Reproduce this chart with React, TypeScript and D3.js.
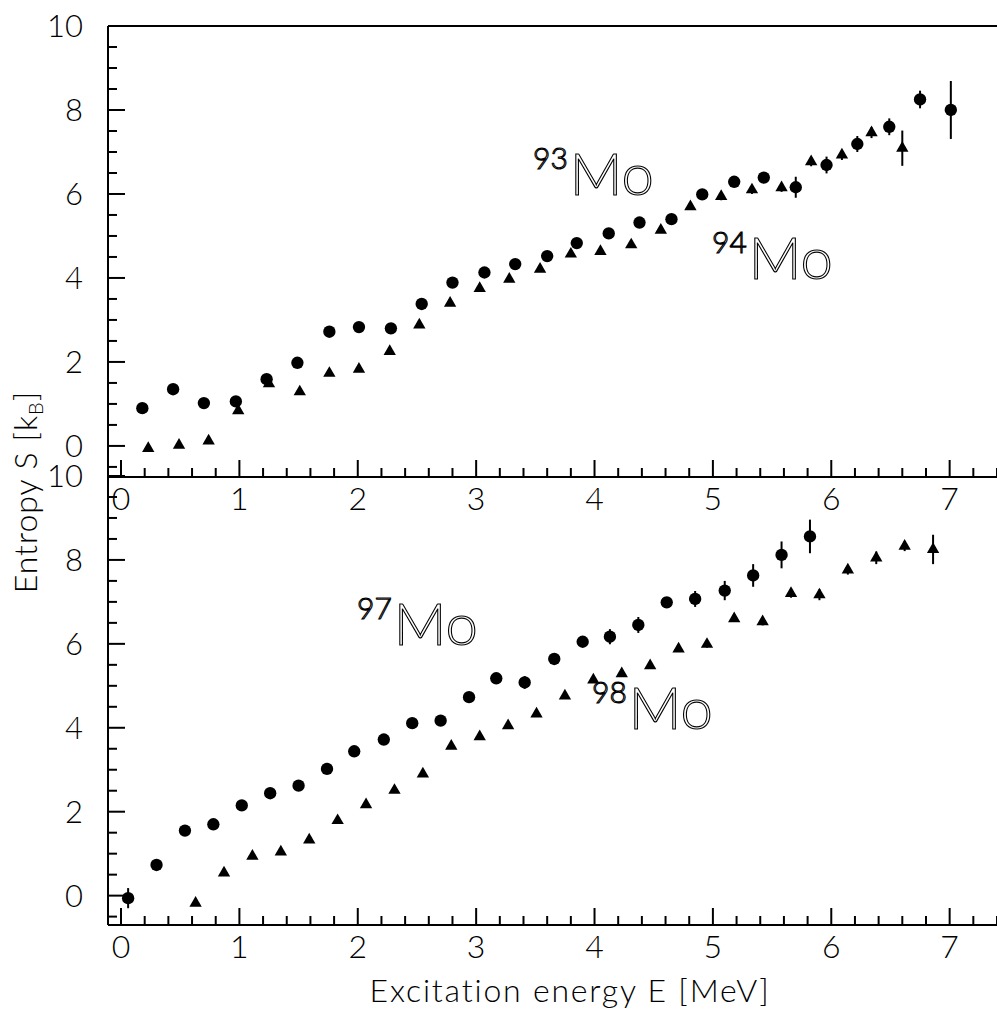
import React from "react";
import * as d3 from "d3";

// ---- data: top panel ----
const mo93E = [0.18, 0.44, 0.70, 0.97, 1.23, 1.49, 1.76, 2.01, 2.28, 2.54, 2.80, 3.07, 3.33, 3.60, 3.85, 4.12, 4.38, 4.65, 4.91, 5.18, 5.43, 5.70, 5.96, 6.22, 6.49, 6.75, 7.01];
const mo93S = [0.90, 1.35, 1.02, 1.06, 1.59, 1.98, 2.72, 2.83, 2.80, 3.38, 3.89, 4.13, 4.33, 4.52, 4.83, 5.06, 5.32, 5.40, 5.99, 6.29, 6.39, 6.16, 6.69, 7.19, 7.60, 8.25, 8.00];
const mo93Err = [0.02, 0.02, 0.02, 0.02, 0.03, 0.03, 0.03, 0.03, 0.04, 0.04, 0.04, 0.05, 0.05, 0.06, 0.06, 0.07, 0.08, 0.09, 0.10, 0.11, 0.12, 0.25, 0.20, 0.19, 0.20, 0.21, 0.69];

const mo94E = [0.23, 0.49, 0.74, 0.99, 1.25, 1.51, 1.76, 2.01, 2.27, 2.52, 2.78, 3.03, 3.28, 3.54, 3.80, 4.05, 4.31, 4.56, 4.81, 5.07, 5.33, 5.58, 5.83, 6.09, 6.34, 6.60];
const mo94S = [-0.06, 0.02, 0.12, 0.84, 1.48, 1.29, 1.73, 1.83, 2.25, 2.88, 3.40, 3.75, 3.97, 4.21, 4.57, 4.63, 4.79, 5.14, 5.70, 5.94, 6.10, 6.15, 6.77, 6.93, 7.46, 7.09];
const mo94Err = [0.02, 0.02, 0.02, 0.02, 0.02, 0.03, 0.03, 0.03, 0.03, 0.04, 0.04, 0.04, 0.05, 0.05, 0.06, 0.06, 0.07, 0.07, 0.08, 0.09, 0.10, 0.10, 0.11, 0.12, 0.13, 0.42];

// ---- data: bottom panel ----
const mo97E = [0.06, 0.30, 0.54, 0.78, 1.02, 1.26, 1.50, 1.74, 1.97, 2.22, 2.46, 2.70, 2.94, 3.17, 3.41, 3.66, 3.90, 4.13, 4.37, 4.61, 4.85, 5.10, 5.34, 5.58, 5.82];
const mo97S = [-0.06, 0.73, 1.55, 1.70, 2.15, 2.44, 2.62, 3.02, 3.44, 3.72, 4.11, 4.17, 4.73, 5.18, 5.08, 5.64, 6.05, 6.17, 6.45, 6.99, 7.07, 7.27, 7.63, 8.12, 8.56];
const mo97Err = [0.24, 0.03, 0.03, 0.03, 0.03, 0.04, 0.04, 0.04, 0.05, 0.05, 0.06, 0.06, 0.07, 0.08, 0.15, 0.09, 0.10, 0.18, 0.19, 0.12, 0.19, 0.23, 0.27, 0.32, 0.40];

const mo98E = [0.63, 0.87, 1.11, 1.35, 1.59, 1.83, 2.07, 2.31, 2.55, 2.79, 3.03, 3.27, 3.51, 3.75, 3.99, 4.23, 4.47, 4.71, 4.95, 5.18, 5.42, 5.66, 5.90, 6.14, 6.38, 6.62, 6.86];
const mo98S = [-0.18, 0.54, 0.94, 1.04, 1.33, 1.79, 2.17, 2.51, 2.90, 3.56, 3.79, 4.05, 4.33, 4.76, 5.14, 5.29, 5.48, 5.88, 5.99, 6.60, 6.53, 7.20, 7.17, 7.76, 8.05, 8.33, 8.25];
const mo98Err = [0.02, 0.02, 0.02, 0.02, 0.03, 0.03, 0.03, 0.03, 0.04, 0.04, 0.04, 0.05, 0.05, 0.05, 0.06, 0.06, 0.07, 0.07, 0.08, 0.08, 0.09, 0.10, 0.13, 0.11, 0.15, 0.12, 0.35];

const xMajorTicks = [0, 1, 2, 3, 4, 5, 6, 7];
const yMajorTicks = [0, 2, 4, 6, 8, 10];

const W = 997;
const H = 1011;
const FONT = "Lato, 'Open Sans', 'DejaVu Sans', sans-serif";
const INK = "#000";

const xScale = d3.scaleLinear().domain([-0.11, 7.4]).range([108, 997]);
const yTop = d3.scaleLinear().domain([-0.74, 10]).range([477, 26]);
const yBot = d3.scaleLinear().domain([-0.7, 10]).range([925, 476]);

const xMinor = d3.range(0, 7.41, 0.2).filter((v) => Math.abs(v - Math.round(v)) > 0.01);
const yMinor = d3.range(-0.5, 10.01, 0.5).filter((v) => Math.abs(v / 2 - Math.round(v / 2)) > 0.01);

const circlePath = d3.symbol(d3.symbolCircle, 120)()!;
const triPath = d3.symbol(d3.symbolTriangle, 66)()!;

type Series = { e: number[]; s: number[]; err: number[]; kind: "circle" | "tri" };

function Panel({ y, series, showTop }: { y: d3.ScaleLinear<number, number>; series: Series[]; showTop: boolean }) {
  const [y0, y1] = y.range();
  const x0 = xScale.range()[0];
  const x1 = xScale.range()[1];
  return (
    <g>
      {series.map((ser, si) => (
        <g key={si}>
          {ser.e.map((e, i) => {
            const cx = xScale(e);
            const cy = y(ser.s[i]);
            const ey1 = y(ser.s[i] + ser.err[i]);
            const ey2 = y(ser.s[i] - ser.err[i]);
            return (
              <g key={i}>
                <line x1={cx} x2={cx} y1={ey1} y2={ey2} stroke={INK} strokeWidth={2} />
                <path d={ser.kind === "circle" ? circlePath : triPath} transform={`translate(${cx},${cy})`} fill={INK} />
              </g>
            );
          })}
        </g>
      ))}
      {showTop && <line x1={x0} x2={x1} y1={y1} y2={y1} stroke={INK} strokeWidth={2} />}
      <line x1={x0} x2={x0} y1={y1} y2={y0} stroke={INK} strokeWidth={2} />
      <line x1={x0} x2={x1} y1={y0} y2={y0} stroke={INK} strokeWidth={2} />
      {xMajorTicks.map((t) => (
        <line key={"xM" + t} x1={xScale(t)} x2={xScale(t)} y1={y0} y2={y0 - 17} stroke={INK} strokeWidth={2} />
      ))}
      {xMinor.map((t) => (
        <line key={"xm" + t} x1={xScale(t)} x2={xScale(t)} y1={y0} y2={y0 - 9} stroke={INK} strokeWidth={2} />
      ))}
      {yMajorTicks.map((t) => (
        <line key={"yM" + t} x1={x0} x2={x0 + 17} y1={y(t)} y2={y(t)} stroke={INK} strokeWidth={2} />
      ))}
      {yMinor.map((t) => (
        <line key={"ym" + t} x1={x0} x2={x0 + 9} y1={y(t)} y2={y(t)} stroke={INK} strokeWidth={2} />
      ))}
      {xMajorTicks.map((t) => (
        <text key={"xl" + t} x={xScale(t)} y={y0 + 33} textAnchor="middle" fontFamily={FONT} fontWeight={300} fontSize={32} fill={INK}>
          {t}
        </text>
      ))}
      {yMajorTicks.map((t) => (
        <text key={"yl" + t} x={83} y={y(t) + 11} textAnchor="end" fontFamily={FONT} fontWeight={300} fontSize={31} fill={INK}>
          {t}
        </text>
      ))}
    </g>
  );
}

function IsoLabel({ x, y, mass }: { x: number; y: number; mass: string }) {
  return (
    <text x={x} y={y} fontFamily={FONT} fill="#fff" stroke="#000" strokeWidth={1.1} fontWeight={300}>
      <tspan fontSize={30} dy={-26}>{mass}</tspan>
      <tspan fontSize={58} dy={26} dx={2}>Mo</tspan>
    </text>
  );
}

export default function App() {
  const topSeries: Series[] = [
    { e: mo93E, s: mo93S, err: mo93Err, kind: "circle" },
    { e: mo94E, s: mo94S, err: mo94Err, kind: "tri" },
  ];
  const botSeries: Series[] = [
    { e: mo97E, s: mo97S, err: mo97Err, kind: "circle" },
    { e: mo98E, s: mo98S, err: mo98Err, kind: "tri" },
  ];
  return (
    <svg width={W} height={H} style={{ position: "absolute", left: 0, top: 0, background: "#fff" }}>
      <rect x={0} y={0} width={W} height={H} fill="#fff" />
      <Panel y={yTop} series={topSeries} showTop={true} />
      <Panel y={yBot} series={botSeries} showTop={false} />
      <IsoLabel x={533} y={195} mass="93" />
      <IsoLabel x={712} y={279} mass="94" />
      <IsoLabel x={357} y={645} mass="97" />
      <IsoLabel x={592} y={729} mass="98" />
      <text x={570} y={1002} textAnchor="middle" fontFamily={FONT} fontWeight={300} fontSize={32} letterSpacing={1.8} fill={INK}>
        Excitation energy E [MeV]
      </text>
      <text transform="translate(37,492) rotate(-90)" textAnchor="middle" fontFamily={FONT} fontWeight={300} fontSize={32} letterSpacing={1} fill={INK}>
        Entropy S [k<tspan fontSize={20} dy={6}>B</tspan><tspan dy={-6}>]</tspan>
      </text>
    </svg>
  );
}
